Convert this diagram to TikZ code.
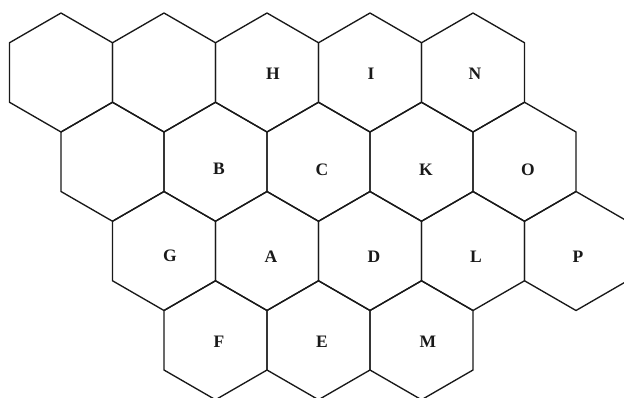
\documentclass[tikz,border=0pt]{standalone}
\usepackage{fontspec}
\setmainfont{Liberation Serif}
\begin{document}
\begin{tikzpicture}[x=1pt,y=-1pt,
  hexline/.style={line width=1.35pt, line join=round, draw=black!90},
  lab/.style={font=\fontsize{17.5}{19}\selectfont\bfseries, inner sep=0pt, text=black!90}]
\useasboundingbox (0,0) rectangle (624,397);
\clip (0,0) rectangle (624,397);
\foreach \cx/\cy in {61/72.5,164/72.5,267/72.5,370/72.5,473/72.5,
  112.5/161.75,215.5/161.75,318.5/161.75,421.5/161.75,524.5/161.75,
  164/251,267/251,370/251,473/251,576/251,
  215.5/340.25,318.5/340.25,421.5/340.25}{
  \draw[hexline] (\cx,\cy-59.5) -- (\cx+51.5,\cy-29.75) -- (\cx+51.5,\cy+29.75)
    -- (\cx,\cy+59.5) -- (\cx-51.5,\cy+29.75) -- (\cx-51.5,\cy-29.75) -- cycle;
}
\node[lab] (H) at (273,73.5) {H};
\node[lab] (I) at (371,73.5) {I};
\node[lab] (N) at (475,74) {N};
\node[lab] (B) at (219,169) {B};
\node[lab] (C) at (322,169.5) {C};
\node[lab] (K) at (426,169.5) {K};
\node[lab] (O) at (528,169.5) {O};
\node[lab] (G) at (170,256) {G};
\node[lab] (A) at (271,256.5) {A};
\node[lab] (D) at (374,256.5) {D};
\node[lab] (L) at (476,256.5) {L};
\node[lab] (P) at (578,256.5) {P};
\node[lab] (F) at (219,342) {F};
\node[lab] (E) at (322,342) {E};
\node[lab] (M) at (428,342) {M};
\end{tikzpicture}
\end{document}
